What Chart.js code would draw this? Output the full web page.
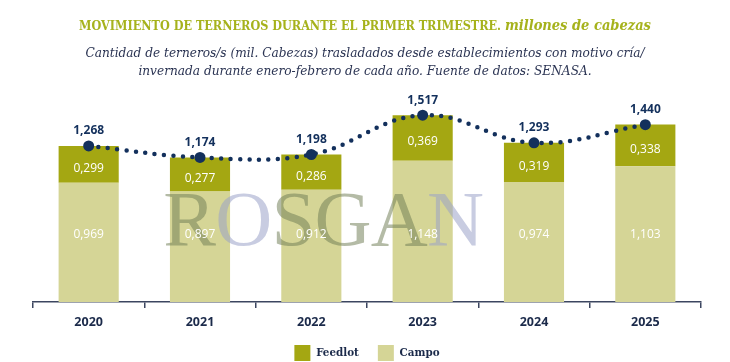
<!DOCTYPE html>
<html><head><meta charset="utf-8">
<script src="https://cdn.jsdelivr.net/npm/chart.js@4.4.0/dist/chart.umd.min.js"></script>
<style>
html,body{margin:0;padding:0;background:#fff;}
#wrap{position:relative;width:730px;height:362px;overflow:hidden;background:#fff}
#title{position:absolute;top:15px;left:0;width:730px;text-align:center;font-family:"DejaVu Serif Condensed","DejaVu Serif",serif;font-weight:bold;font-size:12.5px;color:#a6b21c;white-space:nowrap;line-height:20px}
#title i{font-size:14.5px;font-weight:bold}
#sub{position:absolute;top:43px;left:0;width:730px;text-align:center;font-family:"DejaVu Serif Condensed","DejaVu Serif",serif;font-style:italic;font-size:13.5px;line-height:18px;color:#2b3453;white-space:nowrap}
canvas{position:absolute;left:0;top:0}
</style></head>
<body>
<div id="wrap">
<canvas id="c" width="730" height="362"></canvas>
<div id="title">MOVIMIENTO DE TERNEROS DURANTE EL PRIMER TRIMESTRE. <i>millones de cabezas</i></div>
<div id="sub">Cantidad de terneros/s (mil. Cabezas) trasladados desde establecimientos con motivo cría/<br>invernada durante enero-febrero de cada año. Fuente de datos: SENASA.</div>
</div>
<script>
const categories = ['2020','2021','2022','2023','2024','2025'];
const campo = [0.969, 0.897, 0.912, 1.148, 0.974, 1.103];
const feedlot = [0.299, 0.277, 0.286, 0.369, 0.319, 0.338];
const totals = [1.268, 1.174, 1.198, 1.517, 1.293, 1.440];

const NAVY = '#13305c';
const FEED = '#a4a712';
const CAMPO = '#d5d596';
const fmt = v => v.toFixed(3).replace('.', ',');

const watermark = {
  id: 'watermark',
  afterDatasetsDraw(chart) {
    const ctx = chart.ctx, a = chart.chartArea;
    const olive = 'rgba(112,124,84,0.52)', blue = 'rgba(155,163,200,0.55)';
    const letters = [['R',olive],['O',blue],['S',olive],['G',olive],['A',olive],['N',blue]];
    ctx.save();
    ctx.font = '79px "Liberation Serif", serif';
    ctx.textBaseline = 'alphabetic';
    let x = a.left + (a.right - a.left) * 0.195;
    const y = a.top + (a.bottom - a.top) * 0.71;
    letters.forEach(([l, c]) => {
      ctx.fillStyle = c;
      ctx.fillText(l, x, y);
      x += ctx.measureText(l).width - 0.8;
    });
    ctx.restore();
  }
};

const labels = {
  id: 'labels',
  afterDraw(chart) {
    const ctx = chart.ctx;
    const y = chart.scales.y;
    const mCampo = chart.getDatasetMeta(0);
    const mFeed = chart.getDatasetMeta(1);
    const mLine = chart.getDatasetMeta(2);
    ctx.save();
    ctx.textAlign = 'center';
    ctx.textBaseline = 'middle';
    ctx.font = '12px "Open Sans", sans-serif';
    ctx.fillStyle = '#ffffff';
    mCampo.data.forEach((b, i) => {
      ctx.fillText(fmt(campo[i]), b.x, y.getPixelForValue(0.55));
    });
    mFeed.data.forEach((b, i) => {
      ctx.fillText(fmt(feedlot[i]), b.x, (b.y + b.base) / 2 + 4);
    });
    ctx.font = 'bold 12px "Open Sans", sans-serif';
    ctx.fillStyle = NAVY;
    mLine.data.forEach((p, i) => {
      ctx.fillText(fmt(totals[i]), p.x, p.y - 15);
    });
    ctx.restore();
  }
};

new Chart(document.getElementById('c'), {
  data: {
    labels: categories,
    datasets: [
      { type: 'bar', label: 'Campo', data: campo, backgroundColor: CAMPO, stack: 's', order: 2, barPercentage: 0.54, categoryPercentage: 1 },
      { type: 'bar', label: 'Feedlot', data: feedlot, backgroundColor: FEED, stack: 's', order: 2, barPercentage: 0.54, categoryPercentage: 1 },
      { type: 'line', label: 'Total', data: totals, borderColor: NAVY, borderWidth: 4.5, borderDash: [0, 9.5], borderCapStyle: 'round', tension: 0.4, pointRadius: 5.5, pointBackgroundColor: NAVY, pointBorderWidth: 0, order: 0, fill: false }
    ]
  },
  options: {
    responsive: false,
    animation: false,
    events: [],
    layout: { padding: { top: 105, left: 33, right: 29, bottom: -9 } },
    scales: {
      x: {
        stacked: true,
        offset: true,
        grid: { display: true, offset: true, drawOnChartArea: false, drawTicks: true, tickLength: 6, color: '#3c4660', lineWidth: 1.5 },
        border: { display: true, color: '#3c4660', width: 1.5 },
        ticks: { color: '#1b2a4a', font: { family: 'Open Sans', weight: 'bold', size: 12.5 }, padding: 7 },
        afterFit: (s) => { s.height -= 11; }
      },
      y: { stacked: true, display: false, min: 0, max: 1.6 }
    },
    plugins: {
      legend: {
        position: 'bottom',
        reverse: true,
        labels: {
          filter: (item) => item.text !== 'Total',
          boxWidth: 16, boxHeight: 16, padding: 19,
          color: '#1b2a4a',
          font: { family: '"DejaVu Serif Condensed", "DejaVu Serif", serif', weight: 'bold', size: 11.5 }
        }
      },
      tooltip: { enabled: false }
    }
  },
  plugins: [watermark, labels]
});
</script>
</body></html>
